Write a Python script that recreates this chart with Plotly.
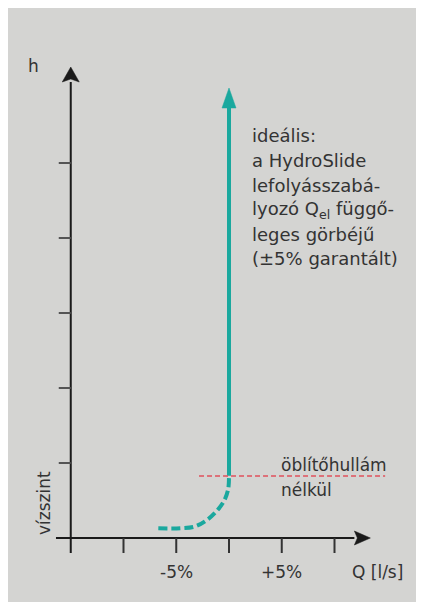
import plotly.graph_objects as go

# ---- data ----
x_ticks = [-10, -5, 0, 5, 10]
x_tick_labels = ["", "-5%", "", "+5%", ""]
y_ticks = [1, 2, 3, 4, 5]
# characteristic curve (Q deviation in %, h in arbitrary units)
curve_dash_x = [-6.7, -4.6, -3.2, -2.0, -1.1, -0.45, -0.08, 0.0]
curve_dash_y = [0.13, 0.13, 0.155, 0.25, 0.37, 0.50, 0.65, 0.83]
curve_solid_x = [0.0, 0.0]
curve_solid_y = [0.83, 5.80]
arrow_tip_y = 6.0
flush_level = 0.827
flush_x = [-2.84, 14.8]
text_lines = ["ideális:", "a HydroSlide", "lefolyásszabá-",
              "lyozó Q<sub>el</sub> függő-", "leges görbéjű", "(±5% garantált)"]

# ---- geometry helpers (page pixel scale; page has 8px body margin) ----
OFF = 8
W, H = 424 - OFF, 608 - OFF
px_x = 10.55   # px per x unit
px_y = 75.0    # px per y unit
x_origin_px, y_origin_px = 229, 538   # page pixels of (0, 0)
xr = [-(x_origin_px - OFF) / px_x, (W - (x_origin_px - OFF)) / px_x]
yr = [-(H - (y_origin_px - OFF)) / px_y, (y_origin_px - OFF) / px_y]

def dx(page_x):
    return (page_x - x_origin_px) / px_x

def dy(page_y):
    return (y_origin_px - page_y) / px_y

y_axis_x = -15
y_axis_top = 6.28
x_axis_right = 13.4
x_axis_left = -16.4
y_axis_bottom = -0.2

teal = "#1aa89e"
black = "#1a1a1a"
txt = "#333333"
font_family = "DejaVu Sans, Liberation Sans, sans-serif"

fig = go.Figure()

fig.add_trace(go.Scatter(x=curve_dash_x, y=curve_dash_y, mode="lines",
                         line=dict(color=teal, width=4, dash="9px,4px", shape="spline"),
                         hoverinfo="skip", showlegend=False))
fig.add_trace(go.Scatter(x=curve_solid_x, y=curve_solid_y, mode="lines",
                         line=dict(color=teal, width=4),
                         hoverinfo="skip", showlegend=False))

shapes = []
# background panel (page px 8..420 x 8..602)
shapes.append(dict(type="rect", xref="paper", yref="paper",
                   x0=0, x1=(420 - OFF) / W, y0=1 - (602 - OFF) / H, y1=1,
                   fillcolor="#d4d4d2", line=dict(width=0), layer="below"))
# red dashed flush line
shapes.append(dict(type="line", x0=flush_x[0], x1=flush_x[1], y0=flush_level, y1=flush_level,
                   line=dict(color="#e0505c", width=1.5, dash="5px,3px")))
# y axis
yhead_len = 15 / px_y
yhead_hw = 8.5 / px_x
shapes.append(dict(type="line", x0=y_axis_x, x1=y_axis_x, y0=y_axis_bottom, y1=y_axis_top - yhead_len,
                   line=dict(color=black, width=2)))
shapes.append(dict(type="path",
                   path=f"M{y_axis_x - yhead_hw},{y_axis_top - yhead_len} L{y_axis_x},{y_axis_top} "
                        f"L{y_axis_x + yhead_hw},{y_axis_top - yhead_len} L{y_axis_x},{y_axis_top - yhead_len + 3 / px_y} Z",
                   fillcolor=black, line=dict(color=black, width=0.5)))
# x axis
xhead_len = 16 / px_x
xhead_hh = 7 / px_y
shapes.append(dict(type="line", x0=x_axis_left, x1=x_axis_right - xhead_len, y0=0, y1=0,
                   line=dict(color=black, width=2)))
shapes.append(dict(type="path",
                   path=f"M{x_axis_right - xhead_len},{-xhead_hh} L{x_axis_right},0 "
                        f"L{x_axis_right - xhead_len},{xhead_hh} L{x_axis_right - xhead_len + 3 / px_x},0 Z",
                   fillcolor=black, line=dict(color=black, width=0.5)))
# teal arrow head
thead_len = 20 / px_y
thead_hw = 7 / px_x
shapes.append(dict(type="path",
                   path=f"M{-thead_hw},{arrow_tip_y - thead_len} L0,{arrow_tip_y} L{thead_hw},{arrow_tip_y - thead_len} Z",
                   fillcolor=teal, line=dict(color=teal, width=0.5)))
for yt in y_ticks:
    shapes.append(dict(type="line", x0=y_axis_x - 12 / px_x, x1=y_axis_x, y0=yt, y1=yt,
                       line=dict(color="#555555", width=2)))
for xt in x_ticks:
    shapes.append(dict(type="line", x0=xt, x1=xt, y0=0, y1=-15 / px_y,
                       line=dict(color="#333333", width=2)))

ann = []
def a(text, x, y, size=17, xanchor="center", yanchor="middle", **kw):
    ann.append(dict(text=text, x=x, y=y, xref="x", yref="y", showarrow=False,
                    xanchor=xanchor, yanchor=yanchor,
                    font=dict(family=font_family, size=size, color=txt), **kw))

a("h", dx(33), dy(66), size=17)
a("vízszint", dx(44), dy(503), size=17, textangle=-90)
for xt, lab in zip(x_ticks, x_tick_labels):
    if lab:
        a(lab, xt, dy(572), size=17)
a("Q [l/s]", dx(377), dy(572), size=17)

line_centers = [135, 160, 185, 209.5, 234, 258]
for t, yc in zip(text_lines, line_centers):
    a(t, dx(250), dy(yc), size=18, xanchor="left")

a("öblítőhullám", dx(279), dy(465), size=17, xanchor="left")
a("nélkül", dx(279), dy(490), size=17, xanchor="left")

fig.update_layout(
    width=W, height=H, autosize=False,
    margin=dict(l=0, r=0, t=0, b=0),
    paper_bgcolor="white", plot_bgcolor="rgba(0,0,0,0)",
    xaxis=dict(range=xr, visible=False, fixedrange=True),
    yaxis=dict(range=yr, visible=False, fixedrange=True),
    shapes=shapes, annotations=ann, showlegend=False,
)

fig.write_html("out.html", config={"displayModeBar": False})
